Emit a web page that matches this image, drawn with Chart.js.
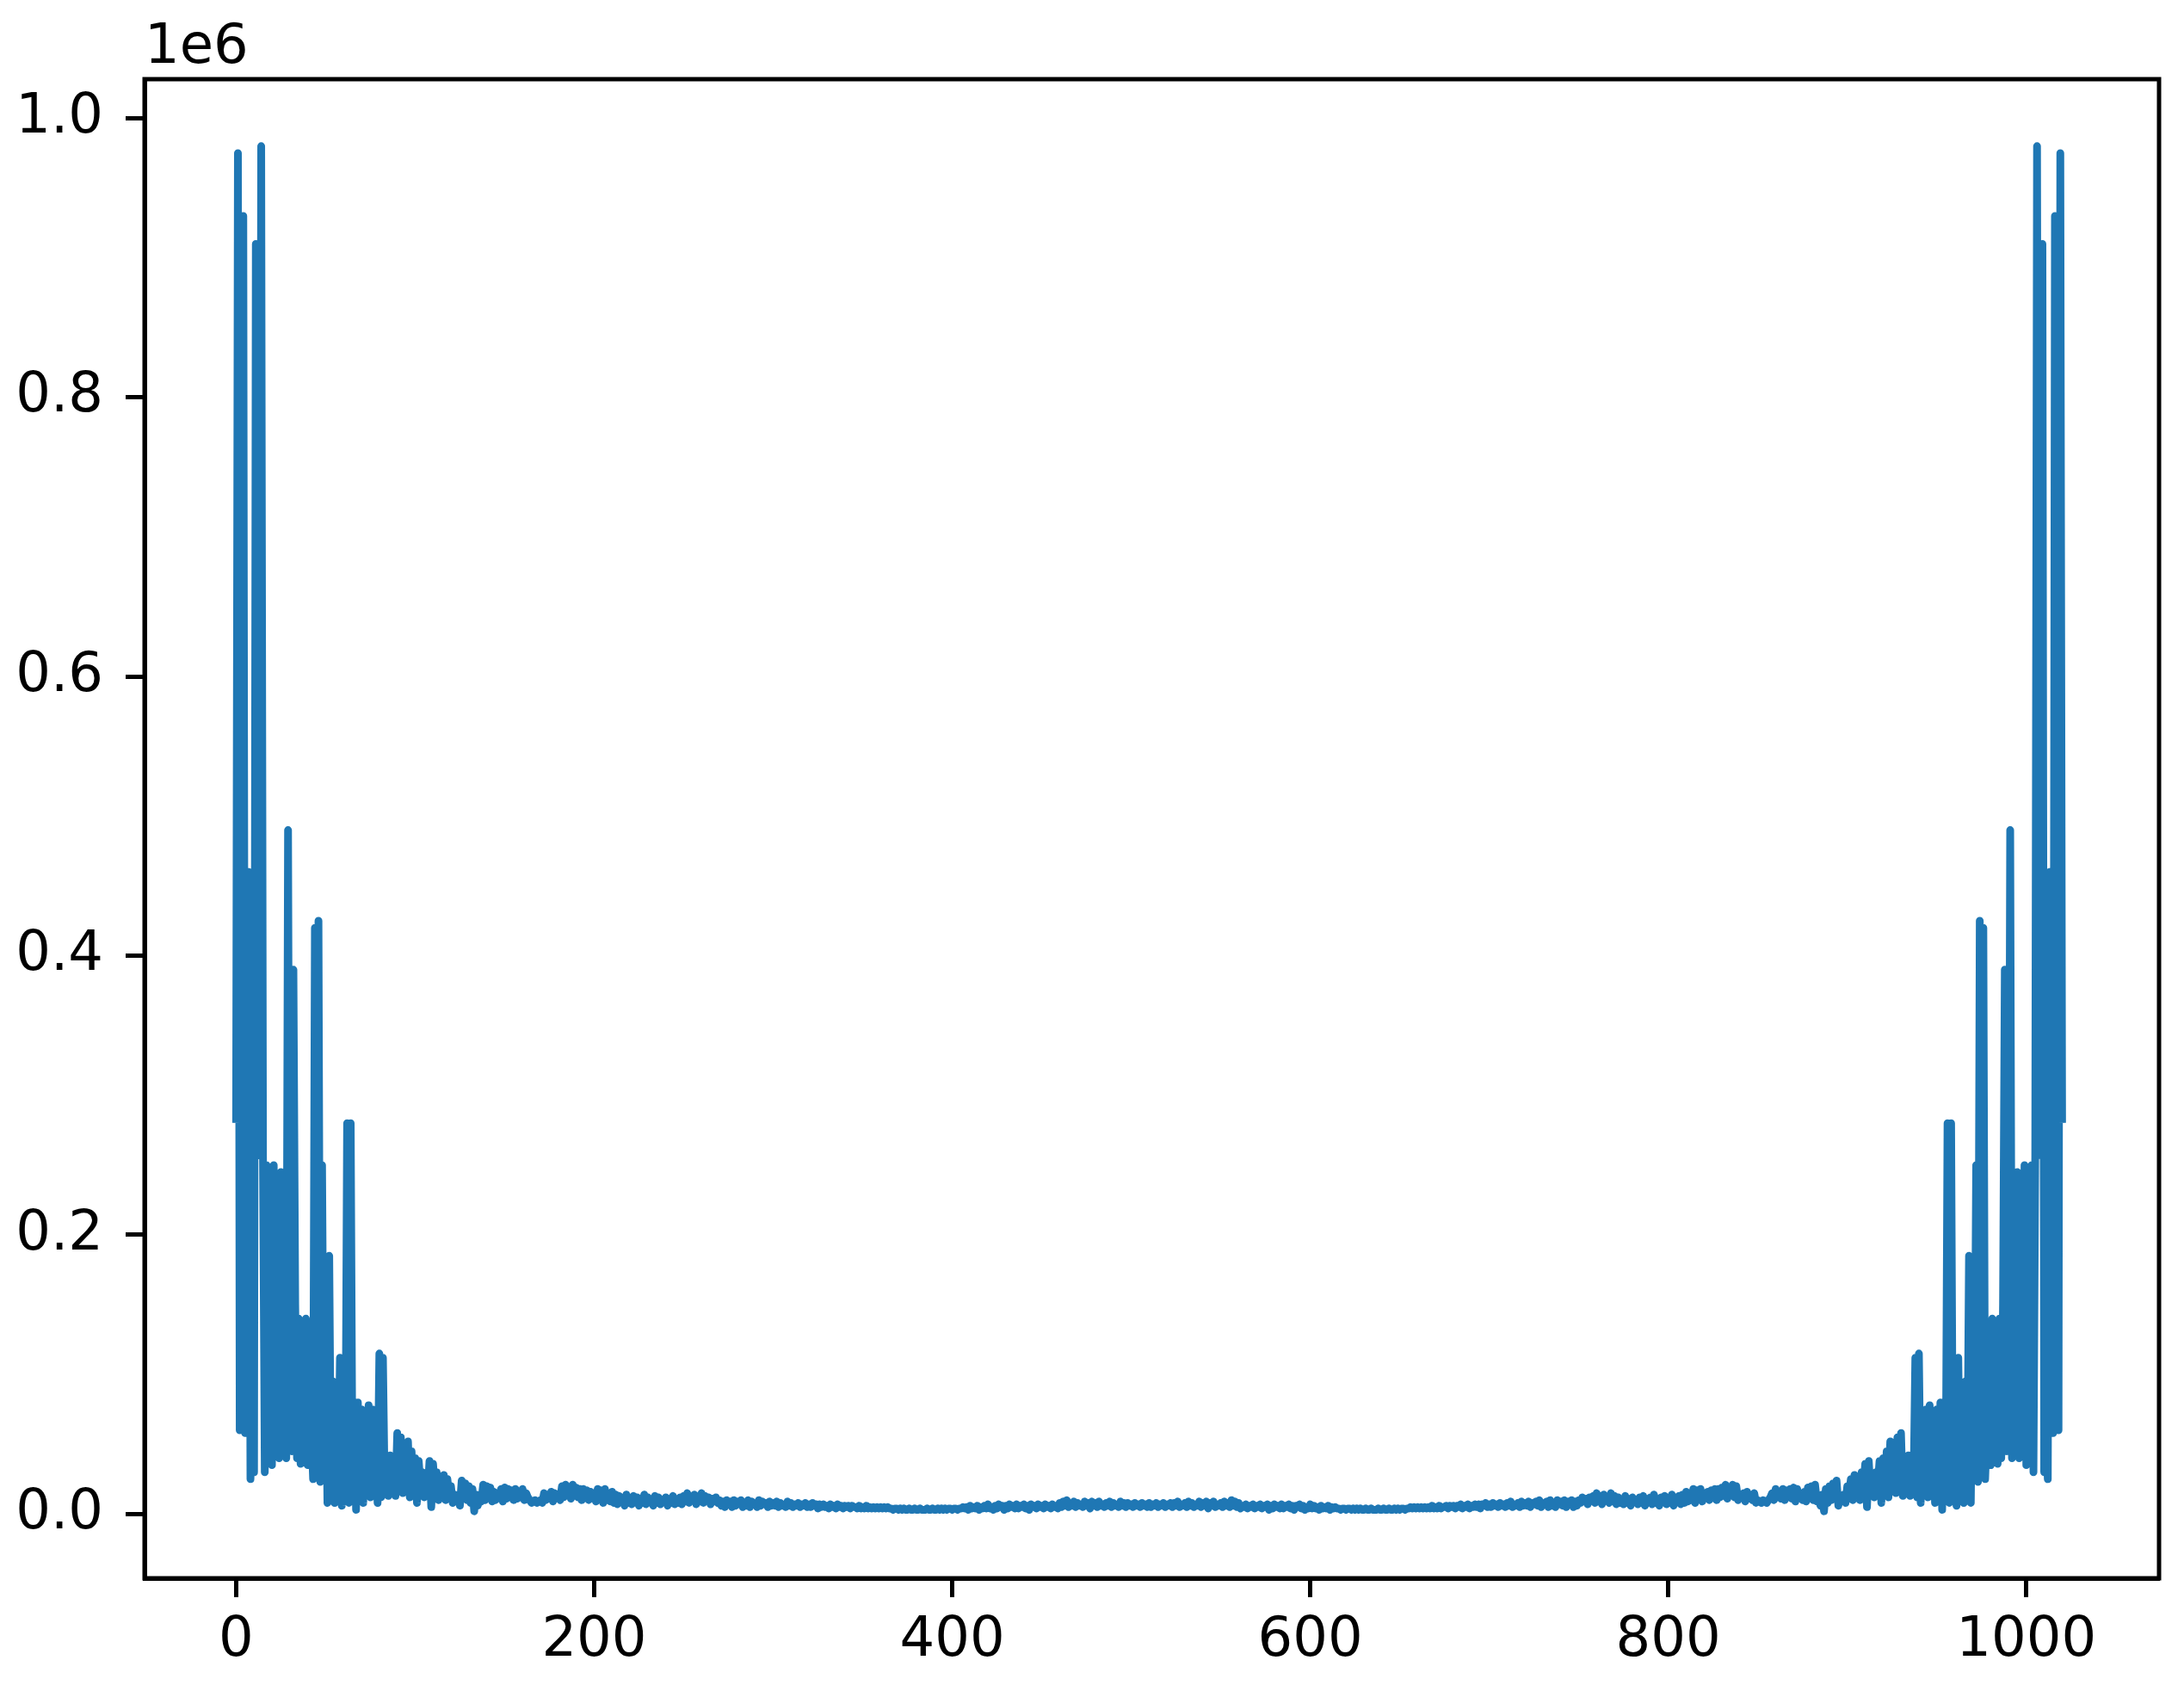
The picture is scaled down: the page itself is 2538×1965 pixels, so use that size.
<!DOCTYPE html>
<html>
<head>
<meta charset="utf-8">
<script src="https://cdn.jsdelivr.net/npm/chart.js@4.4.1/dist/chart.umd.min.js"></script>
<style>
body { margin:0; background:#fff; }
canvas { display:block; }
</style>
</head>
<body>
<canvas id="myChart" width="2538" height="1965"></canvas>
<script>
// FFT magnitude per bin, in thousands (axis is labelled x1e6)
var lowBins = [
 283, 975, 60, 150, 930, 58, 120, 460, 25, 60,
 30, 910, 257, 270, 980, 257, 30, 250, 45, 240,
 35, 250, 55, 130, 40, 245, 45, 120, 40, 490,
 60, 45, 390, 150, 40, 140, 36, 135, 42, 140,
 35, 100, 60, 25, 420, 60, 425, 23, 250, 40,
 120, 8, 185, 12, 95, 8, 90, 15, 112, 6,
 75, 10, 280, 8, 280, 15, 80, 3, 80, 20,
 75, 8, 72, 20, 78, 12, 75, 20, 60, 8,
 115, 12, 112, 15, 30, 13, 42, 20, 38, 13,
 58, 25, 55, 15, 48, 20, 52, 12, 45, 18,
 40, 8, 38, 20, 30, 12, 22, 15, 38, 5,
 36, 18, 30, 10, 26, 15, 28, 10, 25, 14,
 20, 8, 14, 10, 13, 6, 24, 12, 22, 10,
 20, 8, 18, 2, 14, 6, 12, 9, 21, 10,
 20, 12, 19, 9, 16, 10, 15, 12, 18, 9,
 19, 11, 18, 12, 17, 10, 18, 11, 16, 12,
 18, 10, 15, 12, 10, 8, 9, 10, 8, 9,
 10, 8, 15, 10, 14, 11, 16, 9, 15, 12,
 14, 10, 20, 12, 21, 14, 18, 11, 21, 13,
 19, 12, 18, 10, 18, 14, 17, 10, 16, 12,
 13, 9, 18, 11, 17, 8, 18, 10, 15, 9,
 16, 8, 14, 7, 13, 9, 12, 6, 14, 8,
 11, 7, 13, 9, 12, 6, 11, 8, 14, 7,
 12, 9, 11, 6, 13, 8, 12, 7, 10, 9,
 12, 6, 11, 8, 13, 7, 10, 8, 12, 7,
 13, 9, 15, 8, 12, 10, 14, 7, 12, 9,
 15, 8, 13, 10, 12, 7, 11, 9, 12, 8,
 10, 6, 9, 5, 10, 7, 9, 5, 10, 6,
 9, 7, 10, 5, 8, 6, 10, 5, 9, 7,
 8, 5, 10, 6, 9, 7, 8, 5, 9, 6,
 8, 6, 9, 5, 8, 6, 7, 5, 9, 6,
 8, 5, 7, 6, 8, 5, 7, 6, 8, 5,
 7, 5, 8, 6, 7, 4, 7, 5, 7, 5,
 6, 4, 7, 5, 6, 4, 7, 5, 6, 4,
 6, 5, 6, 4, 6, 5, 5, 4, 6, 4,
 5, 4, 6, 4, 5, 4, 5, 4, 5, 4,
 5, 4, 5, 4, 5, 4, 4, 3, 4, 4,
 3, 4, 3, 4, 3, 3, 4, 3, 3, 4,
 3, 3, 4, 3, 3, 3, 4, 3, 3, 4,
 3, 3, 4, 3, 4, 3, 4, 3, 4, 4,
 3, 4, 4, 3, 4, 4, 5, 4, 5, 3,
 6, 4, 5, 4, 6, 3, 5, 4, 6, 4,
 7, 4, 5, 3, 6, 4, 7, 5, 6, 3,
 6, 4, 7, 5, 6, 4, 7, 4, 6, 5,
 7, 4, 6, 3, 7, 5, 6, 4, 7, 5,
 6, 4, 7, 5, 6, 4, 7, 5, 6, 4,
 8, 5, 9, 6, 10, 5, 8, 6, 9, 5,
 8, 6, 7, 5, 9, 6, 8, 4, 9, 6,
 8, 5, 9, 6, 7, 5, 8, 6, 9, 5,
 8, 6, 7, 5, 9, 6, 8, 5, 8, 6,
 7, 5, 8, 6, 7, 5, 8, 6, 7, 5,
 8
];
// bins 511..1020
var highBins = [
 5, 7, 6, 8, 5, 7, 6, 8, 5, 7,
 6, 8, 5, 8, 6, 9, 5, 7, 6, 8,
 5, 9, 6, 8, 5, 7, 6, 9, 5, 8,
 6, 9, 4, 8, 6, 9, 5, 7, 6, 8,
 5, 9, 6, 8, 5, 10, 6, 9, 5, 8,
 4, 6, 5, 7, 4, 6, 5, 7, 4, 6,
 5, 7, 4, 6, 5, 7, 3, 6, 4, 7,
 5, 6, 4, 7, 4, 6, 5, 7, 4, 6,
 3, 6, 5, 7, 4, 6, 3, 5, 4, 7,
 4, 6, 4, 5, 3, 6, 4, 5, 4, 6,
 3, 5, 4, 5, 4, 4, 3, 4, 4, 3,
 4, 4, 3, 4, 3, 4, 3, 4, 3, 3,
 4, 3, 3, 4, 3, 3, 3, 4, 3, 3,
 4, 3, 3, 4, 3, 3, 4, 3, 4, 3,
 4, 4, 3, 4, 4, 5, 4, 5, 4, 5,
 4, 5, 4, 5, 4, 5, 4, 6, 4, 5,
 4, 6, 4, 5, 5, 6, 4, 6, 5, 6,
 4, 6, 5, 7, 4, 6, 5, 7, 4, 6,
 5, 7, 5, 7, 4, 7, 6, 8, 5, 7,
 5, 8, 6, 7, 5, 8, 6, 7, 5, 8,
 6, 9, 5, 7, 6, 8, 5, 9, 6, 8,
 6, 9, 5, 8, 7, 9, 6, 10, 5, 8,
 7, 9, 5, 10, 6, 8, 5, 10, 7, 9,
 6, 10, 5, 9, 7, 10, 5, 9, 6, 10,
 8, 12, 9, 11, 7, 12, 10, 13, 8, 15,
 9, 12, 7, 14, 10, 12, 8, 15, 9, 13,
 7, 12, 8, 10, 7, 13, 8, 11, 6, 12,
 9, 10, 7, 12, 8, 13, 6, 11, 9, 12,
 7, 14, 8, 11, 6, 12, 9, 13, 7, 11,
 8, 14, 6, 12, 9, 13, 7, 14, 8, 16,
 9, 15, 10, 18, 8, 17, 11, 18, 9, 13,
 12, 16, 10, 17, 14, 18, 10, 18, 12, 19,
 13, 21, 11, 18, 14, 21, 12, 20, 10, 14,
 12, 15, 9, 16, 11, 14, 10, 15, 8, 10,
 9, 8, 10, 9, 8, 10, 12, 15, 10, 18,
 12, 16, 11, 18, 10, 17, 12, 18, 11, 19,
 9, 18, 12, 15, 10, 16, 9, 19, 12, 20,
 10, 21, 9, 12, 6, 14, 2, 18, 8, 20,
 10, 22, 12, 24, 6, 13, 10, 14, 8, 20,
 14, 25, 10, 28, 15, 26, 10, 30, 18, 36,
 5, 38, 15, 22, 12, 30, 20, 38, 8, 40,
 18, 45, 12, 52, 20, 48, 15, 55, 25, 58,
 13, 38, 20, 42, 13, 30, 15, 112, 12, 115,
 8, 60, 20, 75, 12, 78, 20, 72, 8, 75,
 20, 80, 3, 80, 15, 280, 8, 280, 10, 75,
 6, 112, 15, 90, 8, 95, 12, 185, 8, 120,
 40, 250, 23, 425, 60, 420, 25, 60, 100, 35,
 140, 42, 135, 36, 140, 40, 150, 390, 45, 60,
 490, 40, 120, 45, 245, 40, 130, 55, 250, 35,
 240, 45, 250, 30, 257, 980, 270, 257, 910, 30,
 60, 25, 460, 120, 58, 930, 150, 60, 975, 283
];
var xTicks = [0, 200, 400, 600, 800, 1000];
var yTicks = [0, 200, 400, 600, 800, 1000];
var offsetLabel = '1e6';

var bins = lowBins.concat(highBins);
var points = bins.map(function(v, i){
    return {x: i, y: v};
});

var tickFont = {family: 'DejaVu Sans', size: 64};

// matplotlib draws all four spines plus the offset text over the y axis
var framePlugin = {
    id: 'frame',
    afterDraw: function(chart){
        var ctx = chart.ctx;
        var a = chart.chartArea;
        ctx.save();
        ctx.strokeStyle = '#000';
        ctx.lineWidth = 5;
        ctx.strokeRect(a.left, a.top, a.right - a.left, a.bottom - a.top);
        ctx.fillStyle = '#000';
        ctx.font = '64px "DejaVu Sans"';
        ctx.textAlign = 'left';
        ctx.textBaseline = 'alphabetic';
        ctx.fillText(offsetLabel, a.left, 73);
        ctx.restore();
    }
};

var ctx = document.getElementById('myChart').getContext('2d');
var chart = new Chart(ctx, {
    type: 'line',
    data: {
        datasets: [{
            data: points,
            borderColor: '#1f77b4',
            borderWidth: 9,
            borderJoinStyle: 'round',
            borderCapStyle: 'square',
            pointRadius: 0,
            tension: 0,
            fill: false
        }]
    },
    options: {
        responsive: false,
        animation: false,
        devicePixelRatio: 1,
        layout: {padding: {top: 92, right: 29, left: 0, bottom: 0}},
        plugins: {legend: {display: false}, tooltip: {enabled: false}},
        scales: {
            x: {
                type: 'linear',
                min: -51.15,
                max: 1074.15,
                afterBuildTicks: function(scale){
                    scale.ticks = xTicks.map(function(v){ return {value: v}; });
                },
                afterFit: function(scale){ scale.height = 131; },
                ticks: {
                    font: tickFont, color: '#000', padding: 13,
                    maxRotation: 0, autoSkip: false,
                    callback: function(v){ return String(v); }
                },
                grid: {drawOnChartArea: false, drawTicks: true, tickLength: 22, tickWidth: 5, tickColor: '#000'},
                border: {display: true, color: '#000', width: 5}
            },
            y: {
                min: -46,
                max: 1028,
                afterBuildTicks: function(scale){
                    scale.ticks = yTicks.map(function(v){ return {value: v}; });
                },
                afterFit: function(scale){ scale.width = 168; },
                ticks: {
                    font: tickFont, color: '#000', padding: 26,
                    callback: function(v){ return (v / 1000).toFixed(1); }
                },
                grid: {drawOnChartArea: false, drawTicks: true, tickLength: 22, tickWidth: 5, tickColor: '#000'},
                border: {display: true, color: '#000', width: 5}
            }
        }
    },
    plugins: [framePlugin]
});
</script>
</body>
</html>
